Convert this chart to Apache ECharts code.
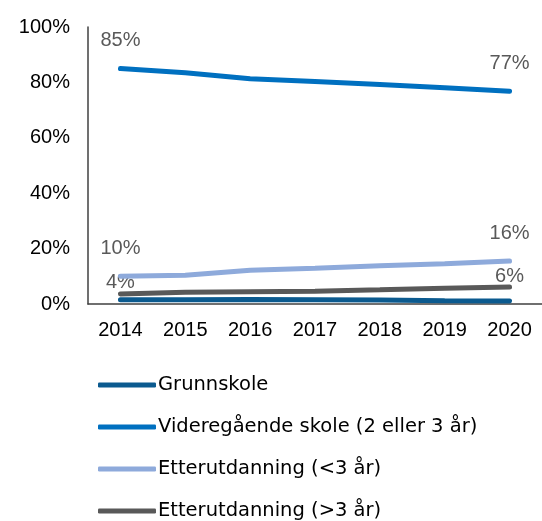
<!DOCTYPE html>
<html><head><meta charset="utf-8">
<script src="https://cdn.jsdelivr.net/npm/echarts@6/dist/echarts.min.js"></script>
<style>html,body{margin:0;padding:0;background:#fff}#c{width:542px;height:521px}</style>
</head><body><div id="c"></div>
<script>
var years = ['2014','2015','2016','2017','2018','2019','2020'];
var grunnskole = [1.5, 1.5, 1.6, 1.5, 1.4, 1.2, 1.1];
var videregaende = [85, 83.5, 81.3, 80.3, 79.2, 78.1, 76.8];
var etterKort = [10, 10.4, 12.2, 12.9, 13.8, 14.5, 15.5];
var etterLang = [3.6, 4.2, 4.4, 4.6, 5.1, 5.7, 6.1];
var yTicks = [0, 20, 40, 60, 80, 100];
var names = ['Grunnskole','Videregående skole (2 eller 3 år)','Etterutdanning (<3 år)','Etterutdanning (>3 år)'];
var colors = ['#0b5a8f','#0070c0','#8eaadb','#595959'];
var FONT = 'DejaVu Sans';
var AXFONT = 'Liberation Sans';
function endLabels(dist){
  return {show:true, position:'top', distance:dist, color:'#595959', fontSize:20, fontFamily:AXFONT,
    formatter:function(p){ return (p.dataIndex===0||p.dataIndex===years.length-1)? Math.round(p.value)+'%':''; }};
}
function mk(i, data, labels){
  return {name:names[i], type:'line', data:data, symbol:'circle', symbolSize:0.1, showSymbol:true, smooth:false,
    lineStyle:{width:5,color:colors[i],cap:'round'}, itemStyle:{color:colors[i]},
    label: labels || {show:false}, labelLayout:{hideOverlap:false}, z: 10-i};
}
var chart = echarts.init(document.getElementById('c'));
chart.setOption({
  animation:false,
  grid:{left:88, top:27, width:459, height:277, containLabel:false},
  xAxis:{type:'category', data:years, boundaryGap:true,
    axisLine:{lineStyle:{color:'#404040',width:1.5}}, axisTick:{show:false},
    axisLabel:{color:'#000', fontSize:20, fontFamily:AXFONT, margin:16}},
  yAxis:{type:'value', min:yTicks[0], max:yTicks[yTicks.length-1], interval:20,
    splitLine:{show:false}, axisTick:{show:false},
    axisLine:{show:true, lineStyle:{color:'#404040',width:1.5}},
    axisLabel:{color:'#000', fontSize:20, fontFamily:AXFONT, margin:18, formatter:'{value}%'}},
  legend:{orient:'vertical', left:93, top:370, height:200, itemWidth:58, itemHeight:5, itemGap:22,
    icon:'roundRect', textStyle:{color:'#000', fontSize:19.5, fontFamily:FONT, lineHeight:20, padding:[0,0,0,-3]},
    data:names},
  series:[
    mk(0, grunnskole),
    mk(1, videregaende, endLabels(18)),
    mk(2, etterKort, endLabels(18)),
    mk(3, etterLang, endLabels(1))
  ]
});
</script></body></html>
